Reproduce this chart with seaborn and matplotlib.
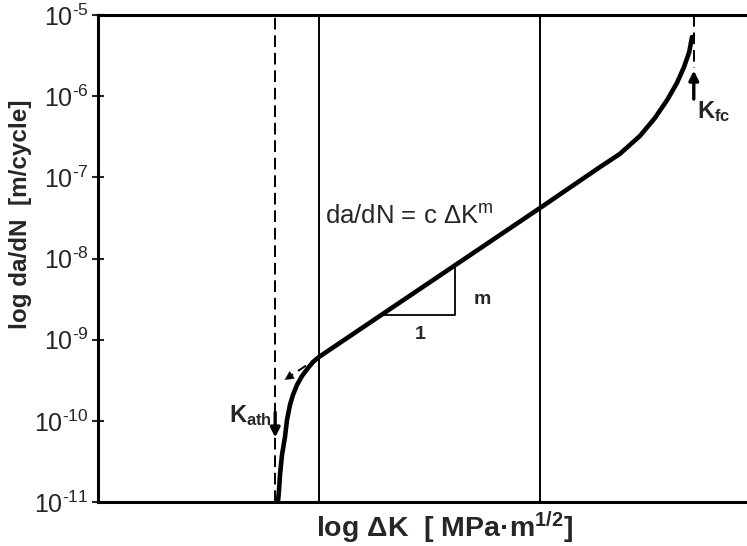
import matplotlib
matplotlib.use("Agg")
import matplotlib.pyplot as plt
import seaborn as sns
import numpy as np
import pandas as pd

# Crack growth curve
# x: position along the log dK axis (axis runs 0..1), y: log10(da/dN)
log_dk = [0.2773, 0.2789, 0.2804, 0.2835, 0.2881, 0.2912, 0.2958, 0.3004,
          0.3066, 0.3143, 0.3236, 0.3313, 0.3405, 0.6810, 0.7735, 0.8040,
          0.8350, 0.8580, 0.8770, 0.8920, 0.9030, 0.9110, 0.9153]
log_dadn = [-11.0, -10.852, -10.667, -10.421, -10.199, -9.989, -9.804, -9.681,
            -9.558, -9.448, -9.349, -9.275, -9.213, -7.378, -6.873, -6.712,
            -6.49, -6.27, -6.047, -5.838, -5.64, -5.456, -5.271]

k_th = 0.273
k_fc = 0.918
region_bounds = [0.341, 0.681]

# slope triangle (x, log da/dN)
tri_x = [0.439, 0.550, 0.550]
tri_y = [-8.70, -8.70, -8.09]

y_ticks = [1e-11, 1e-10, 1e-9, 1e-8, 1e-7, 1e-6, 1e-5]
y_tick_labels = ["10$^{\\text{-11}}$", "10$^{\\text{-10}}$", "10$^{\\text{-9}}$",
                 "10$^{\\text{-8}}$", "10$^{\\text{-7}}$", "10$^{\\text{-6}}$",
                 "10$^{\\text{-5}}$"]

sns.set_style("ticks")
plt.rcParams["font.family"] = ["Liberation Sans", "DejaVu Sans"]
plt.rcParams["mathtext.fontset"] = "custom"
plt.rcParams["mathtext.rm"] = "Liberation Sans"
plt.rcParams["mathtext.it"] = "Liberation Sans:italic"
plt.rcParams["mathtext.bf"] = "Liberation Sans:bold"

df = pd.DataFrame({"x": log_dk, "y": 10.0 ** np.array(log_dadn)})

fig = plt.figure(figsize=(7.47, 5.46), dpi=100)
ax = fig.add_axes([98 / 747, 44 / 546, 649 / 747, 487 / 546])

sns.lineplot(data=df, x="x", y="y", ax=ax, color="black", lw=3.3,
             sort=False, estimator=None)

# region boundaries and thresholds
for xb in region_bounds:
    ax.axvline(xb, color="black", lw=1.4)
ax.axvline(k_th, color="black", lw=1.4, ls=(0, (6, 3)))
ax.plot([k_fc, k_fc], [1e-5, 10 ** -5.65], color="black", lw=1.4, ls=(0, (6, 3)))

# dashed extension of the Paris line + arrowhead
ax.plot([0.3405, 0.2989], [10 ** -9.213, 10 ** -9.435], color="black", lw=1.4,
        ls=(0, (5, 3)))
ax.annotate("", xy=(0.284, 10 ** -9.515), xytext=(0.2989, 10 ** -9.435),
            arrowprops=dict(arrowstyle="-|>", color="black", lw=0.1,
                            mutation_scale=16))

# threshold arrows
ax.annotate("", xy=(k_th, 10 ** -10.24), xytext=(k_th, 10 ** -9.86),
            arrowprops=dict(arrowstyle="-|>", color="black", lw=2.4,
                            mutation_scale=14))
ax.annotate("", xy=(k_fc, 10 ** -5.65), xytext=(k_fc, 10 ** -6.07),
            arrowprops=dict(arrowstyle="-|>", color="black", lw=2.4,
                            mutation_scale=14))

# slope triangle
ax.plot(tri_x, 10.0 ** np.array(tri_y), color="black", lw=1.3)
ax.text(0.592, 10 ** -8.511, "m", fontsize=14, fontweight="bold",
        ha="center", va="center")
ax.text(0.496, 10 ** -8.94, "1", fontsize=14, fontweight="bold",
        ha="center", va="center")

ax.text(0.35, 10 ** -7.49, "da/dN = c \u0394K$^{\\mathrm{m}}$", fontsize=18.5,
        ha="left", va="center")
ax.text(0.268, 10 ** -9.93, "K$_{\\mathbf{ath}}$", fontsize=17,
        fontweight="bold", ha="right", va="center")
ax.text(0.923, 10 ** -6.195, "K$_{\\mathbf{fc}}$", fontsize=17,
        fontweight="bold", ha="left", va="center")

ax.set_yscale("log")
ax.set_ylim(1e-11, 1e-5)
ax.set_xlim(0, 1)
ax.set_yticks(y_ticks)
ax.set_yticklabels(y_tick_labels)
ax.minorticks_off()
ax.set_xticks([])
ax.tick_params(axis="y", direction="inout", length=9, width=1.5,
               labelsize=18, pad=2)

for side in ["left", "bottom", "top"]:
    ax.spines[side].set_linewidth(2.2)
    ax.spines[side].set_color("black")
ax.spines["right"].set_visible(False)

ax.set_xlabel("log \u0394K  [ MPa\u00b7m$^{\\mathbf{1/2}}$]", fontsize=20.5,
              fontweight="bold")
ax.set_ylabel("log da/dN  [m/cycle]", fontsize=17.5, fontweight="bold")
ax.xaxis.set_label_coords(0.534, -0.015)
ax.yaxis.set_label_coords(-0.101, 0.59)

fig.savefig("out.png", dpi=100)
